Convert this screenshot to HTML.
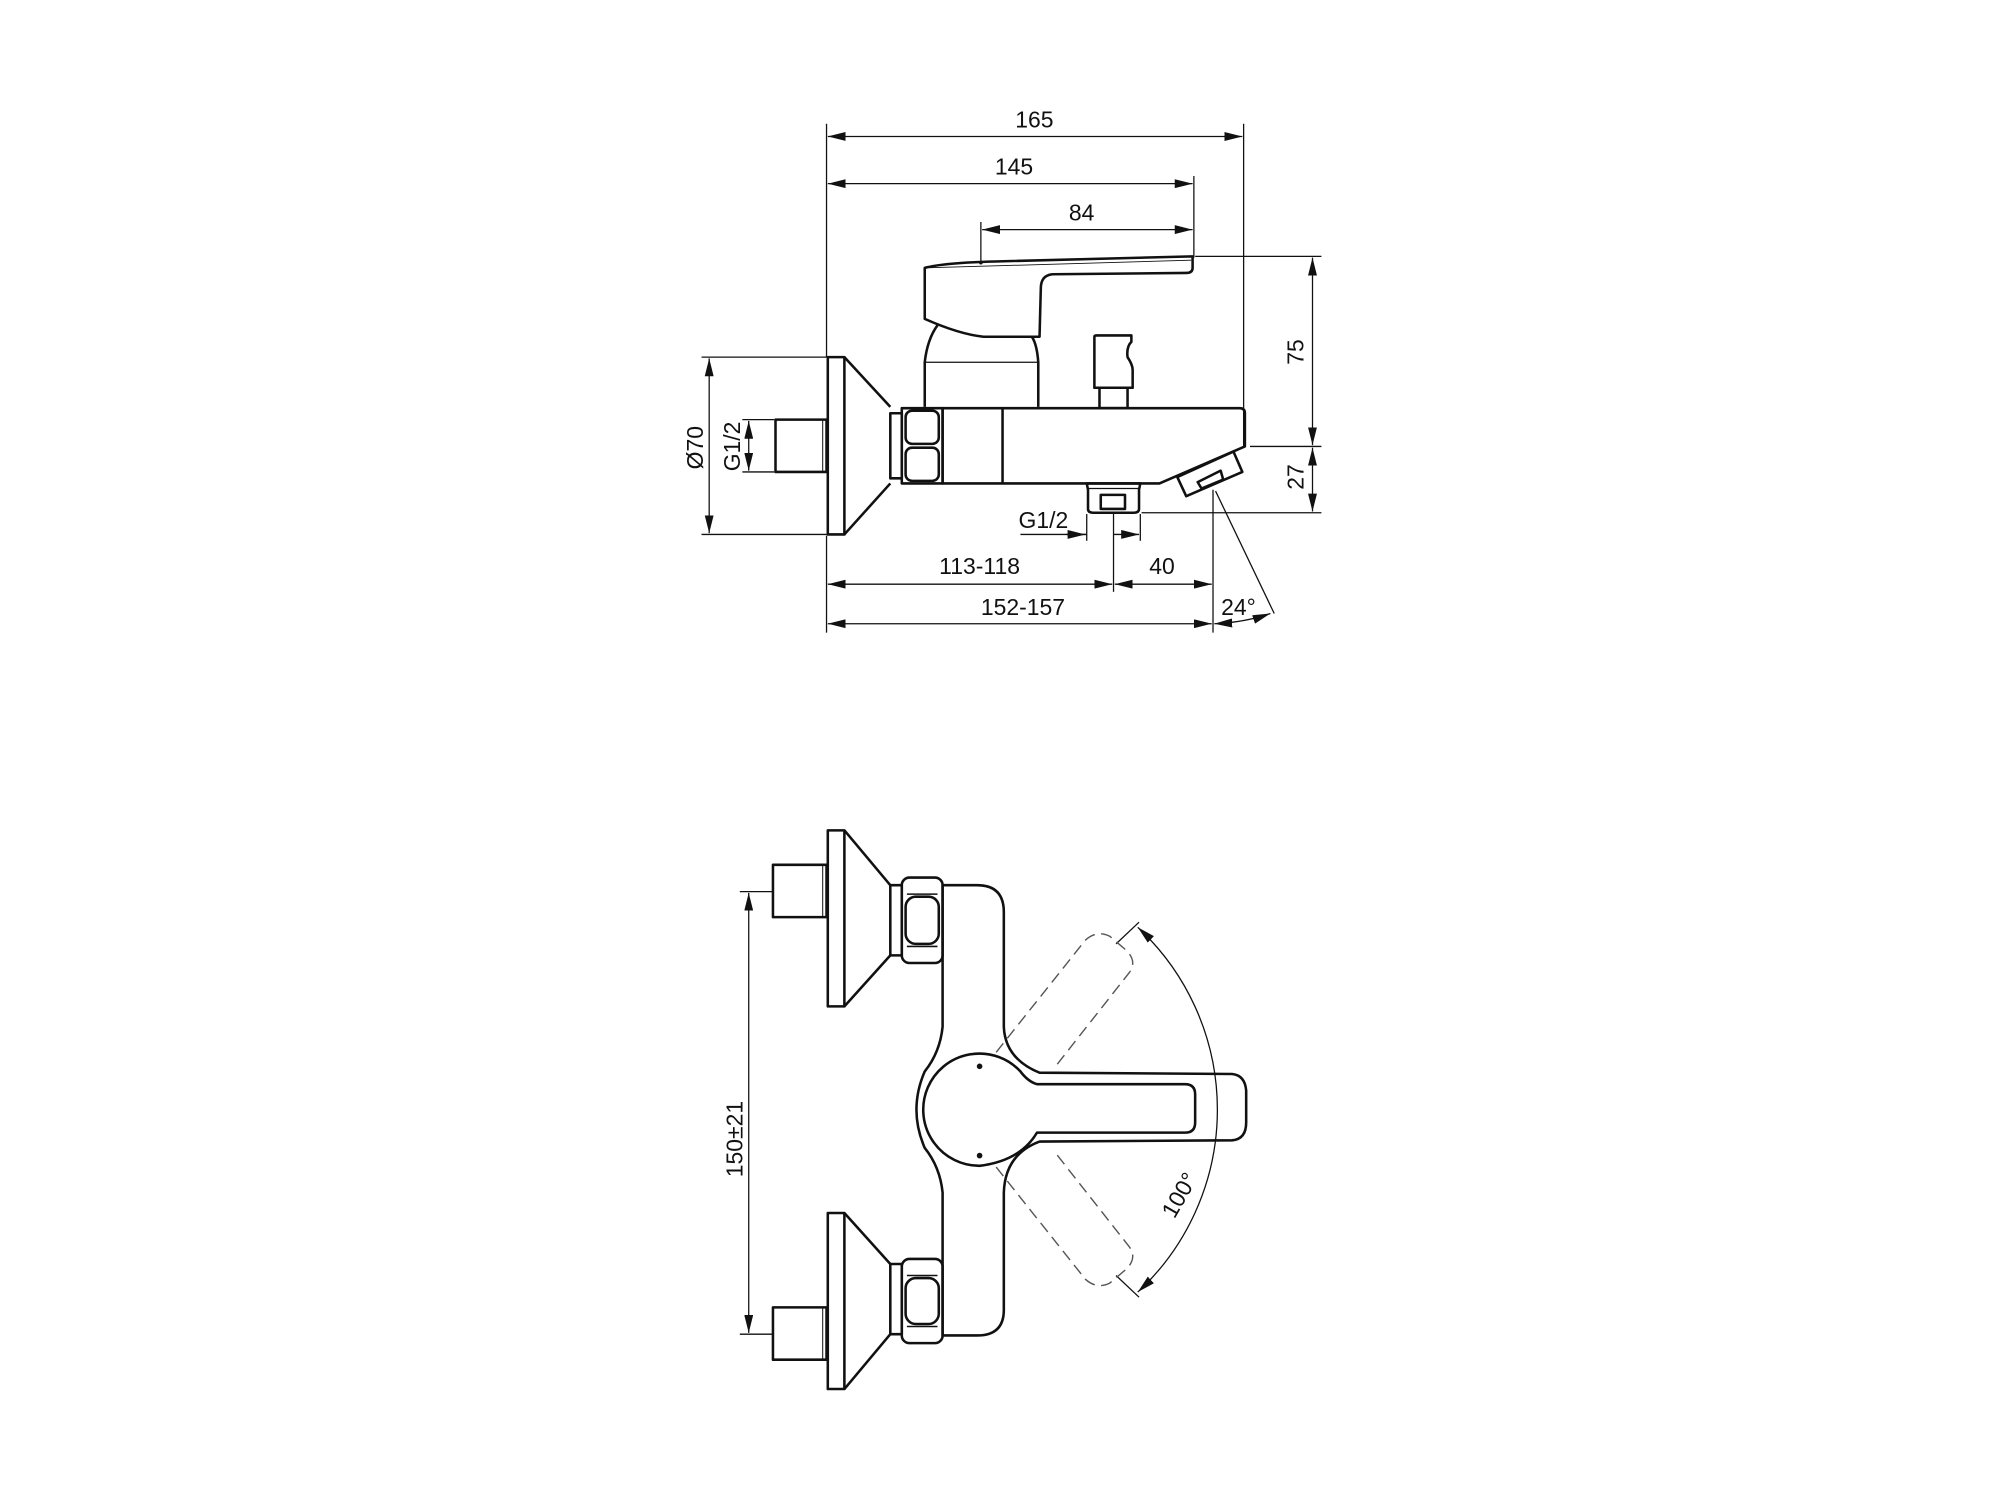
<!DOCTYPE html>
<html><head><meta charset="utf-8"><style>
html,body{margin:0;padding:0;background:#fff;}
svg{display:block;}
text{font-family:"Liberation Sans",sans-serif;font-size:18px;fill:#111;}
</style></head><body>
<svg width="2000" height="1500" viewBox="0 0 1568 1176" preserveAspectRatio="none" xmlns="http://www.w3.org/2000/svg">
<defs>
<marker id="a" viewBox="0 0 14 7" refX="14" refY="3.5" markerWidth="14" markerHeight="7" markerUnits="userSpaceOnUse" orient="auto-start-reverse"><path d="M0,0 L14,3.5 L0,7 Z" fill="#111"/></marker>
</defs>
<rect width="1568" height="1176" fill="#fff"/>
<g fill="none" stroke="#111" stroke-width="1">
<line x1="648" y1="97" x2="648" y2="280"/>
<line x1="975" y1="97" x2="975" y2="350"/>
<line x1="936" y1="138" x2="936" y2="202"/>
<line x1="769" y1="174" x2="769" y2="207"/>
<line x1="649" y1="107" x2="974" y2="107" marker-start="url(#a)" marker-end="url(#a)"/>
<line x1="649" y1="144" x2="935" y2="144" marker-start="url(#a)" marker-end="url(#a)"/>
<line x1="770" y1="180" x2="935" y2="180" marker-start="url(#a)" marker-end="url(#a)"/>
<line x1="937" y1="201" x2="1036" y2="201"/>
<line x1="980" y1="350" x2="1036" y2="350"/>
<line x1="895" y1="402" x2="1036" y2="402"/>
<line x1="1029" y1="202" x2="1029" y2="349" marker-start="url(#a)" marker-end="url(#a)"/>
<line x1="1029" y1="351" x2="1029" y2="401" marker-start="url(#a)" marker-end="url(#a)"/>
<line x1="550" y1="280" x2="648" y2="280"/>
<line x1="550" y1="419" x2="648" y2="419"/>
<line x1="556" y1="281" x2="556" y2="418" marker-start="url(#a)" marker-end="url(#a)"/>
<line x1="582" y1="329" x2="607" y2="329"/>
<line x1="582" y1="370" x2="607" y2="370"/>
<line x1="587" y1="330" x2="587" y2="369" marker-start="url(#a)" marker-end="url(#a)"/>
<line x1="648" y1="420" x2="648" y2="496"/>
<line x1="852" y1="403" x2="852" y2="424"/>
<line x1="894" y1="403" x2="894" y2="424"/>
<line x1="873" y1="403" x2="873" y2="464"/>
<line x1="800" y1="419" x2="852" y2="419"/>
<line x1="836" y1="419" x2="851" y2="419" marker-end="url(#a)"/>
<line x1="873" y1="419" x2="893" y2="419" marker-end="url(#a)"/>
<line x1="649" y1="458" x2="872" y2="458" marker-start="url(#a)" marker-end="url(#a)"/>
<line x1="874" y1="458" x2="950" y2="458" marker-start="url(#a)" marker-end="url(#a)"/>
<line x1="649" y1="489" x2="950" y2="489" marker-start="url(#a)" marker-end="url(#a)"/>
<line x1="951" y1="384" x2="951" y2="496"/>
<line x1="953" y1="385" x2="999" y2="481"/>
<path d="M952,489 Q976,488 996,481" marker-start="url(#a)" marker-end="url(#a)"/>
<line x1="580" y1="699" x2="606" y2="699"/>
<line x1="580" y1="1046" x2="606" y2="1046"/>
<line x1="587" y1="700" x2="587" y2="1045" marker-start="url(#a)" marker-end="url(#a)"/>
<path d="M892,727 A195,195 0 0 1 892,1013" marker-start="url(#a)" marker-end="url(#a)"/>
<line x1="875" y1="740" x2="893" y2="723"/>
<line x1="875" y1="1000" x2="893" y2="1017"/>
</g>

<g fill="none" stroke="#111" stroke-width="2" stroke-linejoin="round">
<rect x="649" y="280" width="13" height="139"/>
<path d="M662,280 L698,319 M698,379 L662,419"/>
<line x1="662" y1="280" x2="662" y2="419" stroke-width="0.8"/>
<rect x="608" y="329" width="40" height="41"/>
<line x1="645" y1="329" x2="645" y2="370" stroke-width="0.8"/>
<rect x="698" y="324" width="9" height="51"/>
<rect x="707" y="320" width="32" height="59"/>
<rect x="710" y="322" width="26" height="26" rx="5"/>
<rect x="710" y="351" width="26" height="26" rx="5"/>
<path d="M739,320 L972,320 Q976,320 976,324 L976,350 L909,379 L739,379 Z"/>
<line x1="786" y1="320" x2="786" y2="379"/>
<path d="M725,319 L725,284 Q727,266 735,255"/>
<path d="M814,319 L814,284 Q813,270 809,264"/>
<line x1="725" y1="284" x2="814" y2="284" stroke-width="1"/>
<path d="M725,250 L725,210 Q740,206 780,205 L935,201 L935,210 Q935,214 930,214 L825,215 Q816,216 816,226 L815,264 L771,264 Q752,262 725,250 Z"/>
<line x1="726" y1="210" x2="934" y2="204" stroke-width="0.7"/>
<path d="M858,304 L858,264 Q858,263 860,263 L887,263 L887,268 Q883,272 884,280 Q888,286 888,290 L888,304 Z"/>
<rect x="862" y="304" width="22" height="16"/>
<path d="M852,379 L894,379 L893,384 L893,399 Q893,402 889,402 L857,402 Q853,402 853,399 L853,384 Z"/>
<line x1="853" y1="383" x2="893" y2="383" stroke-width="1"/>
<rect x="863" y="388" width="19" height="11"/>
<path d="M923,374 L967,354 L974,370 L930,389 Z"/>
<path d="M939,378 L957,369 L959,376 L942,383 Z"/>

<rect x="649" y="651" width="13" height="138"/>
<line x1="662" y1="651" x2="662" y2="789" stroke-width="0.8"/>
<path d="M662,651 L698,694 M698,749 L662,789"/>
<rect x="606" y="678" width="42" height="41"/>
<line x1="645" y1="678" x2="645" y2="719" stroke-width="0.8"/>
<rect x="698" y="694" width="9" height="55"/>
<rect x="707" y="688" width="32" height="67" rx="6"/>
<path d="M711,701 L735,701 M711,742 L735,742" stroke-width="1.2"/>
<rect x="710" y="703" width="26" height="37" rx="8"/>
<rect x="649" y="951" width="13" height="138"/>
<line x1="662" y1="951" x2="662" y2="1089" stroke-width="0.8"/>
<path d="M662,951 L698,991 M698,1046 L662,1089"/>
<rect x="606" y="1025" width="42" height="41"/>
<line x1="645" y1="1025" x2="645" y2="1066" stroke-width="0.8"/>
<rect x="698" y="991" width="9" height="55"/>
<rect x="707" y="987" width="32" height="66" rx="6"/>
<path d="M711,1000 L735,1000 M711,1040 L735,1040" stroke-width="1.2"/>
<rect x="710" y="1002" width="26" height="36" rx="8"/>
<path d="M739,694 L766,694 Q787,694 787,715 L787,805 Q788,830 815,841 L966,842 Q976,843 977,855 L977,880 Q977,893 966,894 L815,895 Q788,905 787,935 L787,1027 Q787,1047 766,1047 L739,1047 L739,935 Q737,915 725,900 Q712,870 725,840 Q737,825 739,805 Z"/>
<path d="M813,850 L929,850 Q937,850 937,858 L937,880 Q937,888 929,888 L813,888 Q800,910 768,914 A44,44 0 1 1 800,840 Q806,848 813,850 Z"/>
</g>
<circle cx="768" cy="836" r="2.2" fill="#111"/>
<circle cx="768" cy="906" r="2.2" fill="#111"/>
<circle cx="769" cy="206" r="1.4" fill="#111"/>
<g fill="none" stroke="#555" stroke-width="1.1" stroke-dasharray="9,5">
<path d="M781,825 L851,737 Q860,729 870,734 L883,745 Q892,754 885,763 L826,838"/>
<path d="M781,915 L851,1003 Q860,1011 870,1006 L883,995 Q892,986 885,977 L826,902"/>
</g>
<text x="811" y="100" text-anchor="middle">165</text>
<text x="795" y="137" text-anchor="middle">145</text>
<text x="848" y="173" text-anchor="middle">84</text>
<text transform="translate(1022,276) rotate(-90)" text-anchor="middle">75</text>
<text transform="translate(1022,374) rotate(-90)" text-anchor="middle">27</text>
<text transform="translate(551,351) rotate(-90)" text-anchor="middle">Ø70</text>
<text transform="translate(580,350) rotate(-90)" text-anchor="middle">G1/2</text>
<text x="818" y="414" text-anchor="middle">G1/2</text>
<text x="768" y="450" text-anchor="middle">113-118</text>
<text x="911" y="450" text-anchor="middle">40</text>
<text x="802" y="482" text-anchor="middle">152-157</text>
<text x="971" y="482" text-anchor="middle">24°</text>
<text transform="translate(582,893) rotate(-90)" text-anchor="middle">150±21</text>
<text transform="translate(930,940) rotate(-60)" text-anchor="middle">100°</text>
</svg>
</body></html>
